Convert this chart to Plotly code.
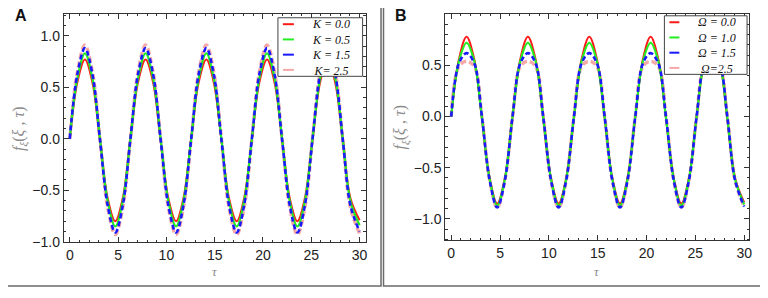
import plotly.graph_objects as go

# target picture size and the page's default body offset
W, H = 768, 298
OX, OY = 8, 8
FW, FH = W - OX, H - OY

# ---------------- data ----------------
tau = [0.00, 0.79, 1.57, 2.36, 3.14, 3.93, 4.71, 5.50,
       6.28, 7.07, 7.85, 8.64, 9.42, 10.21, 11.00, 11.78,
       12.57, 13.35, 14.14, 14.92, 15.71, 16.49, 17.28, 18.06,
       18.85, 19.63, 20.42, 21.21, 21.99, 22.78, 23.56, 24.35,
       25.13, 25.92, 26.70, 27.49, 28.27, 29.06, 30.00]

# Panel A: K series
a_k00 = [0, 0.55, 0.77, 0.54, -0.02, -0.58, -0.80, -0.57,
         0, 0.55, 0.77, 0.54, -0.02, -0.58, -0.80, -0.57,
         0, 0.55, 0.77, 0.54, -0.02, -0.58, -0.80, -0.57,
         0, 0.55, 0.77, 0.54, -0.02, -0.58, -0.80, -0.57,
         0, 0.55, 0.77, 0.54, -0.02, -0.58, -0.79]
a_k05 = [0, 0.59, 0.83, 0.58, -0.01, -0.61, -0.85, -0.60,
         0, 0.59, 0.83, 0.58, -0.01, -0.61, -0.85, -0.60,
         0, 0.59, 0.83, 0.58, -0.01, -0.61, -0.85, -0.60,
         0, 0.59, 0.83, 0.58, -0.01, -0.61, -0.85, -0.60,
         0, 0.59, 0.83, 0.58, -0.01, -0.61, -0.84]
a_k15 = [0, 0.63, 0.88, 0.62, -0.02, -0.65, -0.91, -0.64,
         0, 0.63, 0.88, 0.62, -0.02, -0.65, -0.91, -0.64,
         0, 0.63, 0.88, 0.62, -0.02, -0.65, -0.91, -0.64,
         0, 0.63, 0.88, 0.62, -0.02, -0.65, -0.91, -0.64,
         0, 0.63, 0.88, 0.62, -0.02, -0.65, -0.90]
a_k25 = [0, 0.65, 0.91, 0.64, -0.01, -0.67, -0.93, -0.66,
         0, 0.65, 0.91, 0.64, -0.01, -0.67, -0.93, -0.66,
         0, 0.65, 0.91, 0.64, -0.01, -0.67, -0.93, -0.66,
         0, 0.65, 0.91, 0.64, -0.01, -0.67, -0.93, -0.66,
         0, 0.65, 0.91, 0.64, -0.01, -0.67, -0.92]

# Panel B: Omega series
b_o00 = [0, 0.56, 0.78, 0.56, -0.01, -0.60, -0.85, -0.60,
         0, 0.56, 0.78, 0.56, -0.01, -0.60, -0.85, -0.60,
         0, 0.56, 0.78, 0.56, -0.01, -0.60, -0.85, -0.60,
         0, 0.56, 0.78, 0.56, -0.01, -0.60, -0.85, -0.60,
         0, 0.56, 0.78, 0.56, -0.01, -0.60, -0.84]
b_o10 = [0, 0.54, 0.72, 0.54, -0.01, -0.61, -0.87, -0.61,
         0, 0.54, 0.72, 0.54, -0.01, -0.61, -0.87, -0.61,
         0, 0.54, 0.72, 0.54, -0.01, -0.61, -0.87, -0.61,
         0, 0.54, 0.72, 0.54, -0.01, -0.61, -0.87, -0.61,
         0, 0.54, 0.72, 0.54, -0.01, -0.61, -0.86]
b_o15 = [0, 0.52, 0.62, 0.52, 0.00, -0.62, -0.89, -0.62,
         0, 0.52, 0.62, 0.52, 0.00, -0.62, -0.89, -0.62,
         0, 0.52, 0.62, 0.52, 0.00, -0.62, -0.89, -0.62,
         0, 0.52, 0.62, 0.52, 0.00, -0.62, -0.89, -0.62,
         0, 0.52, 0.62, 0.52, 0.00, -0.62, -0.88]
b_o25 = [0, 0.49, 0.54, 0.49, 0.00, -0.62, -0.89, -0.62,
         0, 0.49, 0.54, 0.49, 0.00, -0.62, -0.89, -0.62,
         0, 0.49, 0.54, 0.49, 0.00, -0.62, -0.89, -0.62,
         0, 0.49, 0.54, 0.49, 0.00, -0.62, -0.89, -0.62,
         0, 0.49, 0.54, 0.49, 0.00, -0.62, -0.88]

labels_a = ["K = 0.0", "K = 0.5", "K = 1.5", "K= 2.5"]
labels_b = ["Ω = 0.0", "Ω = 1.0", "Ω = 1.5", "Ω=2.5"]
x_ticks = [0, 5, 10, 15, 20, 25, 30]
y_ticks = [-1.0, -0.5, 0.0, 0.5, 1.0]
panel_titles = ["A", "B"]
x_title = "τ"
y_title = "<i>f</i><sub><i>ξ</i></sub>(<i>ξ</i> , <i>τ</i>)"

# ---------------- styles ----------------
colors = ["#ff1a1a", "#22ee22", "#1a1aff", "#f5a8a8"]
widths = [2.0, 2.2, 2.6, 3.4]
dashes = ["solid", "solid", "5px,3px", "6px,3px"]
draw_order = [3, 0, 1, 2]  # pink underneath


def px(x):
    return (x - OX) / FW


def py(y):
    return 1 - (y - OY) / FH


fig = go.Figure()

series_a = [a_k00, a_k05, a_k15, a_k25]
series_b = [b_o00, b_o10, b_o15, b_o25]

for i in draw_order:
    fig.add_trace(go.Scatter(x=tau, y=series_a[i], mode="lines", name=labels_a[i],
                             line=dict(color=colors[i], width=widths[i], dash=dashes[i],
                                       shape="spline"),
                             showlegend=False, xaxis="x", yaxis="y"))
for i in draw_order:
    fig.add_trace(go.Scatter(x=tau, y=series_b[i], mode="lines", name=labels_b[i],
                             line=dict(color=colors[i], width=widths[i], dash=dashes[i],
                                       shape="spline"),
                             showlegend=False, xaxis="x2", yaxis="y2"))

tickfont = dict(family="Arial, Liberation Sans, sans-serif", size=14, color="#222")
frame = "#333"


def xaxis(domain, rng, anchor):
    return dict(domain=domain, range=rng, anchor=anchor, tickvals=x_ticks,
                ticks="inside", ticklen=5, tickcolor=frame, showline=True, linecolor=frame,
                linewidth=1, mirror="allticks", showgrid=False, zeroline=False,
                tickfont=tickfont,
                minor=dict(ticks="inside", ticklen=2.5, dtick=1, tickcolor=frame, showgrid=False))


def yaxis(domain, rng, anchor):
    return dict(domain=domain, range=rng, anchor=anchor, tickvals=y_ticks, tickformat=".1f",
                ticks="inside", ticklen=5, tickcolor=frame, showline=True, linecolor=frame,
                linewidth=1, mirror="allticks", showgrid=False, zeroline=False,
                tickfont=tickfont,
                minor=dict(ticks="inside", ticklen=2.5, dtick=0.1, tickcolor=frame, showgrid=False))


fig.update_layout(
    width=FW, height=FH, margin=dict(l=0, r=0, t=0, b=0), autosize=False,
    paper_bgcolor="white", plot_bgcolor="white",
    xaxis=xaxis([px(64), px(367)], [-0.62, 30.62], "y"),
    yaxis=yaxis([py(248), py(14)], [-1.004, 1.213], "x"),
    xaxis2=xaxis([px(447), px(752)], [-0.61, 30.5], "y2"),
    yaxis2=yaxis([py(246), py(14)], [-1.21, 1.004], "x2"),
)

shapes = []
annotations = []

# outer panel borders
for x0, x1 in [(1, 382.5), (385, 766.5)]:
    shapes.append(dict(type="rect", xref="paper", yref="paper",
                       x0=px(x0), x1=px(x1), y0=py(1), y1=py(293),
                       line=dict(color="#6a6a6a", width=1.5), fillcolor="rgba(0,0,0,0)"))

# panel letters
for t, xc in zip(panel_titles, [21.5, 403]):
    annotations.append(dict(text="<b>%s</b>" % t, xref="paper", yref="paper",
                            x=px(xc), y=py(15.5), showarrow=False,
                            xanchor="center", yanchor="middle",
                            font=dict(family="Arial, Liberation Sans, sans-serif", size=16, color="#111")))

# axis titles
serif = "Liberation Serif, Times New Roman, serif"
for xc, yc in [(20, 131), (403, 130)]:
    annotations.append(dict(text=y_title, xref="paper", yref="paper", x=px(xc), y=py(yc),
                            showarrow=False, textangle=-90, xanchor="center", yanchor="middle",
                            font=dict(family=serif, size=16, color="#8a8a8a")))
for xc in [215.5, 599.5]:
    annotations.append(dict(text="<i>%s</i>" % x_title, xref="paper", yref="paper",
                            x=px(xc), y=py(278), showarrow=False,
                            xanchor="center", yanchor="middle",
                            font=dict(family=serif, size=13, color="#8a8a8a")))

# legends: box, short line samples, and one multi-line label block
LEG_FONT = 12
line_gap = LEG_FONT * 1.3
legends = [
    dict(labels=labels_a, box=(279, 364, 18, 78), center=48, lx=(284, 295), tx=332),
    dict(labels=labels_b, box=(667, 750, 16, 76), center=46, lx=(672, 682), tx=720),
]
for lg in legends:
    bx0, bx1, by0, by1 = lg["box"]
    shapes.append(dict(type="rect", xref="paper", yref="paper",
                       x0=px(bx0), x1=px(bx1), y0=py(by0), y1=py(by1),
                       line=dict(color="#444", width=1), fillcolor="white"))
    n = len(lg["labels"])
    for i in range(n):
        ry = lg["center"] + (i - (n - 1) / 2) * line_gap
        shapes.append(dict(type="line", xref="paper", yref="paper",
                           x0=px(lg["lx"][0]), x1=px(lg["lx"][1]), y0=py(ry), y1=py(ry),
                           line=dict(color=colors[i], width=2)))
    annotations.append(dict(text="<br>".join("<i>%s</i>" % s for s in lg["labels"]),
                            xref="paper", yref="paper", align="center",
                            x=px(lg["tx"]), y=py(lg["center"]), showarrow=False,
                            xanchor="center", yanchor="middle",
                            font=dict(family=serif, size=LEG_FONT, color="#111")))

fig.update_layout(shapes=shapes, annotations=annotations)

fig.write_html("out.html",
               config={"staticPlot": True, "displayModeBar": False, "responsive": False})
